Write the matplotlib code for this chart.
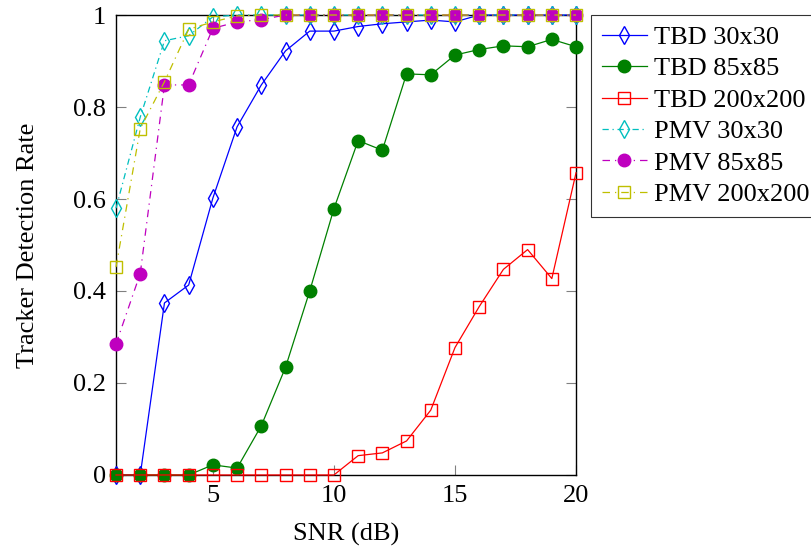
import matplotlib
matplotlib.use("Agg")
import matplotlib.pyplot as plt

snr = list(range(1, 21))

tbd_30 = [0, 0, 0.374, 0.413, 0.602, 0.757, 0.848, 0.922, 0.965, 0.965,
          0.975, 0.981, 0.985, 0.989, 0.985, 1.0, 1.0, 1.0, 1.0, 1.0]
tbd_85 = [0, 0, 0, 0, 0.022, 0.015, 0.107, 0.234, 0.40, 0.579,
          0.727, 0.706, 0.872, 0.870, 0.913, 0.925, 0.933, 0.931, 0.947, 0.931]
tbd_200 = [0, 0, 0, 0, 0, 0, 0, 0, 0, 0,
           0.042, 0.048, 0.074, 0.141, 0.277, 0.366, 0.447, 0.490, 0.427, 0.657]
pmv_30 = [0.58, 0.778, 0.944, 0.955, 0.996, 1.0, 1.0, 1.0, 1.0, 1.0,
          1.0, 1.0, 1.0, 1.0, 1.0, 1.0, 1.0, 1.0, 1.0, 1.0]
pmv_85 = [0.285, 0.438, 0.848, 0.848, 0.971, 0.985, 0.99, 1.0, 1.0, 1.0,
          1.0, 1.0, 1.0, 1.0, 1.0, 1.0, 1.0, 1.0, 1.0, 1.0]
pmv_200 = [0.452, 0.753, 0.855, 0.969, 0.985, 0.998, 1.0, 1.0, 1.0, 1.0,
           1.0, 1.0, 1.0, 1.0, 1.0, 1.0, 1.0, 1.0, 1.0, 1.0]

labels = ["TBD 30x30", "TBD 85x85", "TBD 200x200",
          "PMV 30x30", "PMV 85x85", "PMV 200x200"]

plt.rcParams["font.family"] = ["Liberation Serif", "DejaVu Serif"]
plt.rcParams["font.size"] = 19

fig = plt.figure(figsize=(8.12, 5.5), dpi=100)
ax = fig.add_axes([0.1429, 0.1364, 0.5665, 0.8363])

lw = 0.9
ax.plot(snr, tbd_30, color="blue", lw=lw, marker="d", ms=9, mfc="none", mec="blue",
        label=labels[0], clip_on=False, zorder=3)
ax.plot(snr, tbd_85, color="#008000", lw=lw, marker="o", ms=9, mfc="#008000", mec="#008000",
        label=labels[1], clip_on=False, zorder=3)
ax.plot(snr, tbd_200, color="red", lw=lw, marker="s", ms=9, mfc="none", mec="red",
        label=labels[2], clip_on=False, zorder=3)
ax.plot(snr, pmv_30, color="#00bfbf", lw=lw, ls=(0, (5, 3, 1, 3)), marker="d", ms=9,
        mfc="none", mec="#00bfbf", label=labels[3], clip_on=False, zorder=4)
ax.plot(snr, pmv_85, color="#bf00bf", lw=lw, ls=(0, (6, 4, 1, 4)), marker="o", ms=9,
        mfc="#bf00bf", mec="#bf00bf", label=labels[4], clip_on=False, zorder=4)
ax.plot(snr, pmv_200, color="#bfbf00", lw=lw, ls=(0, (6, 4, 1, 4)), marker="s", ms=9,
        mfc="none", mec="#bfbf00", label=labels[5], clip_on=False, zorder=5)

ax.set_xlim(1, 20)
ax.set_ylim(0, 1)
ax.set_xticks([5, 10, 15, 20])
ax.set_yticks([0, 0.2, 0.4, 0.6, 0.8, 1.0])
ax.set_yticklabels(["0", "0.2", "0.4", "0.6", "0.8", "1"])
ax.tick_params(direction="in", length=7, width=0.8, color="gray",
               top=True, right=True, pad=7)
for s in ax.spines.values():
    s.set_linewidth(1.0)

ax.set_xlabel("SNR (dB)", labelpad=12)
ax.set_ylabel("Tracker Detection Rate", labelpad=25)

leg = ax.legend(loc="upper left", bbox_to_anchor=(1.033, 1.0), frameon=True,
                fancybox=False, edgecolor="black", handlelength=1.7,
                handletextpad=0.27, borderpad=0.4, labelspacing=0.3, borderaxespad=0)
leg.get_frame().set_linewidth(0.8)

plt.savefig("out.png", dpi=100)
